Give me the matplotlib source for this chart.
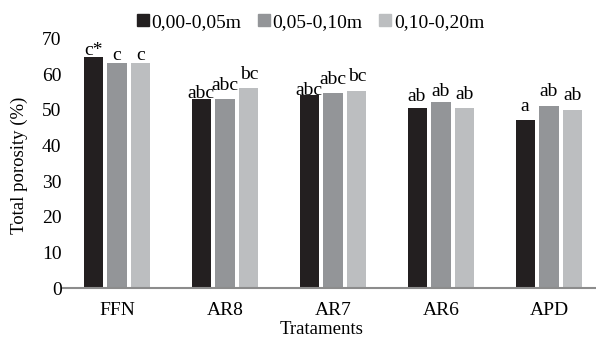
import matplotlib
matplotlib.use("Agg")
import matplotlib.pyplot as plt
from matplotlib.lines import Line2D
import numpy as np

categories = ["FFN", "AR8", "AR7", "AR6", "APD"]
series_names = ["0,00-0,05m", "0,05-0,10m", "0,10-0,20m"]
depth_0_5 = [64.9, 53.0, 54.2, 50.6, 47.0]
depth_5_10 = [63.2, 53.1, 54.6, 52.2, 51.0]
depth_10_20 = [63.2, 56.0, 55.3, 50.6, 50.0]
letters_0_5 = ["c*", "abc", "abc", "ab", "a"]
letters_5_10 = ["c", "abc", "abc", "ab", "ab"]
letters_10_20 = ["c", "bc", "bc", "ab", "ab"]
yticks = [0, 10, 20, 30, 40, 50, 60, 70]

# label offsets above bar tops (points), style only
label_offsets = [
    [1.0, 0.5, 0.0, 5.0, 7.0],
    [2.0, 6.5, 7.0, 4.5, 7.0],
    [2.0, 6.5, 7.0, 6.0, 7.0],
]

colors = ["#231f20", "#939598", "#bcbec0"]

plt.rcParams["font.family"] = ["Liberation Serif", "DejaVu Serif"]
plt.rcParams["font.size"] = 14

fig = plt.figure(figsize=(5.96, 3.37), dpi=100)
ax = fig.add_axes([63 / 596, 1 - 288.3 / 337, 1 - 63 / 596, 250 / 337])

x = np.arange(len(categories))
width = 0.176
step = 0.222
series = [depth_0_5, depth_5_10, depth_10_20]
letters = [letters_0_5, letters_5_10, letters_10_20]
for i, (vals, labs) in enumerate(zip(series, letters)):
    xs = x + (i - 1) * step
    ax.bar(xs, vals, width=width, color=colors[i], zorder=2)
    for xi, v, lab, off in zip(xs, vals, labs, label_offsets[i]):
        ax.annotate(lab, (xi, v), xytext=(0, off), textcoords="offset points",
                    ha="center", va="baseline", fontsize=14)

ax.set_xlim(-0.5, (596 - 117) / 108)
ax.set_ylim(0, 70)
ax.set_yticks(yticks)
ax.set_xticks(x)
ax.set_xticklabels(categories)
for s in ["top", "right", "left"]:
    ax.spines[s].set_visible(False)
ax.spines["bottom"].set_color("#8c8c8c")
ax.spines["bottom"].set_linewidth(1.5)
ax.spines["bottom"].set_zorder(3)
ax.tick_params(axis="both", length=0)
ax.tick_params(axis="y", pad=1)
ax.tick_params(axis="x", pad=10)
ax.set_ylabel("Total porosity (%)", fontsize=13.5)
ax.yaxis.set_label_coords(-35 / 533, (288.3 - 165) / 250)
ax.set_xlabel("Tratamen" + "ts", fontsize=13.5)
ax.xaxis.set_label_coords((322 - 63) / 533, -(320.5 - 288.3) / 250)

handles = [Line2D([], [], marker="s", linestyle="none", markersize=8.6,
                  markerfacecolor=c, markeredgecolor=c) for c in colors]
fig.legend(handles, series_names, loc="center", bbox_to_anchor=(310.5 / 596, 1 - 22 / 337),
           ncol=3, frameon=False, handlelength=0.6, handletextpad=0.15,
           columnspacing=0.85, fontsize=14, borderpad=0, borderaxespad=0)

fig.savefig("out.png", dpi=100)
